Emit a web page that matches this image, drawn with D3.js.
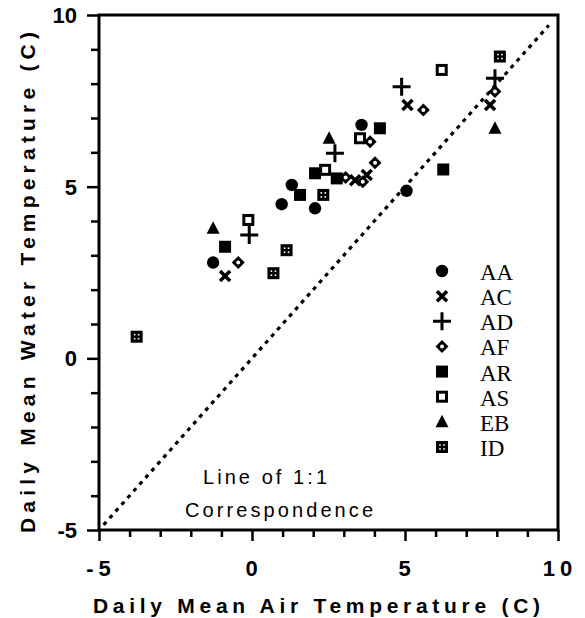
<!DOCTYPE html>
<html><head><meta charset="utf-8">
<script src="https://cdn.jsdelivr.net/npm/d3@7"></script>
<style>
html,body{margin:0;padding:0;background:#fff;}
svg{display:block;}
</style></head>
<body>
<svg id="chart" width="585" height="618"></svg>
<script>
// ---- data (air temp, water temp) ----
const seriesNames = ["AA","AC","AD","AF","AR","AS","EB","ID"];
const AA = [[-1.27,2.79],[0.97,4.49],[1.30,5.05],[2.06,4.37],[3.58,6.80],[5.05,4.88]];
const AC = [[-0.88,2.40],[3.37,5.19],[3.75,5.34],[5.08,7.38],[7.78,7.38]];
const AD = [[-0.09,3.59],[2.71,5.97],[4.89,7.91],[7.94,8.16]];
const AF = [[-0.45,2.79],[3.06,5.27],[3.62,5.14],[4.02,5.70],[3.86,6.31],[5.60,7.23],[7.94,7.77]];
const AR = [[-0.88,3.25],[1.57,4.76],[2.06,5.39],[2.77,5.24],[4.18,6.70],[6.25,5.50]];
const AS = [[-0.12,4.03],[2.39,5.49],[3.53,6.41],[6.20,8.40]];
const EB = [[-1.27,3.79],[2.52,6.41],[7.94,6.70]];
const ID = [[-3.77,0.63],[0.70,2.48],[1.13,3.15],[2.33,4.76],[8.10,8.79]];
const seriesData = {AA, AC, AD, AF, AR, AS, EB, ID};
const xDomain = [-5, 10];
const yDomain = [-5, 10];
const xTickLabels = ["-5","0","5","10"];
const yTickLabels = ["-5","0","5","10"];
const lineExtent = [-4.85, 9.7];

// ---- layout ----
const svg = d3.select("#chart");
const L = 99, R = 558, T = 15, B = 530;
const x = d3.scaleLinear().domain(xDomain).range([L, R]);
const y = d3.scaleLinear().domain(yDomain).range([B, T]);
const ink = "#000";

// frame
svg.append("rect").attr("x", L).attr("y", T).attr("width", R - L).attr("height", B - T)
  .attr("fill", "none").attr("stroke", ink).attr("stroke-width", 3);

// y axis
const yTicks = d3.range(yDomain[0], yDomain[1] + 1);
const ya = svg.append("g").attr("transform", `translate(${L},0)`)
  .call(d3.axisLeft(y).tickValues(yTicks).tickSize(8).tickFormat(""));
ya.select(".domain").remove();
ya.selectAll(".tick line").attr("stroke", ink).attr("stroke-width", 2.5)
  .attr("x2", d => d % 5 === 0 ? -12 : -8);
// x axis
const xTicks = d3.range(xDomain[0], xDomain[1] + 1);
const xa = svg.append("g").attr("transform", `translate(0,${B})`)
  .call(d3.axisBottom(x).tickValues(xTicks).tickSize(7).tickFormat(""));
xa.select(".domain").remove();
xa.selectAll(".tick line").attr("stroke", ink).attr("stroke-width", 2.5)
  .attr("y2", d => d % 5 === 0 ? 11 : 7);

// tick labels
const labelFont = "'Liberation Sans', Arial, sans-serif";
svg.append("g").selectAll("text").data(yTickLabels).join("text")
  .attr("x", 77).attr("y", d => y(+d) + 8)
  .attr("text-anchor", "end").attr("font-family", labelFont)
  .attr("font-weight", "bold").attr("font-size", 22).attr("fill", ink)
  .text(d => d);
svg.append("g").selectAll("text").data(xTickLabels).join("text")
  .attr("x", d => x(+d) + 2).attr("y", 576)
  .attr("text-anchor", "middle").attr("font-family", labelFont)
  .attr("font-weight", "bold").attr("font-size", 22).attr("fill", ink)
  .attr("letter-spacing", 5)
  .text(d => d);

// axis titles
svg.append("text").attr("x", 93).attr("y", 613)
  .attr("font-family", labelFont).attr("font-weight", "bold").attr("font-size", 21)
  .attr("textLength", 447).attr("lengthAdjust", "spacing").attr("fill", ink)
  .text("Daily Mean Air Temperature (C)");
svg.append("text").attr("transform", "translate(35,533) rotate(-90)")
  .attr("font-family", labelFont).attr("font-weight", "bold").attr("font-size", 21)
  .attr("textLength", 501).attr("lengthAdjust", "spacing").attr("fill", ink)
  .text("Daily Mean Water Temperature (C)");

// 1:1 line
svg.append("line")
  .attr("x1", x(lineExtent[0])).attr("y1", y(lineExtent[0]))
  .attr("x2", x(lineExtent[1])).attr("y2", y(lineExtent[1]))
  .attr("stroke", ink).attr("stroke-width", 3.2)
  .attr("stroke-dasharray", "4 5");

// annotation
const annFont = "'Liberation Sans', Arial, sans-serif";
svg.append("text").attr("x", 203).attr("y", 484)
  .attr("font-family", annFont).attr("font-size", 20).attr("fill", ink)
  .attr("textLength", 124).attr("lengthAdjust", "spacing")
  .text("Line of 1:1");
svg.append("text").attr("x", 185).attr("y", 517)
  .attr("font-family", annFont).attr("font-size", 20).attr("fill", ink)
  .attr("textLength", 188).attr("lengthAdjust", "spacing")
  .text("Correspondence");

// markers
function drawMarker(g, name) {
  if (name === "AA") {
    g.append("circle").attr("r", 6.2).attr("fill", ink);
  } else if (name === "AC") {
    g.append("path").attr("d", "M-5,-5L5,5M-5,5L5,-5")
      .attr("stroke", ink).attr("stroke-width", 3.5).attr("fill", "none");
  } else if (name === "AD") {
    g.append("path").attr("d", "M-9,0L9,0M0,-9L0,9")
      .attr("stroke", ink).attr("stroke-width", 3).attr("fill", "none");
  } else if (name === "AF") {
    g.append("path").attr("d", "M0,-6.5L6.5,0L0,6.5L-6.5,0Z").attr("fill", ink);
    g.append("circle").attr("r", 2).attr("fill", "#fff");
  } else if (name === "AR") {
    g.append("rect").attr("x", -6).attr("y", -6).attr("width", 12).attr("height", 12).attr("fill", ink);
  } else if (name === "AS") {
    g.append("rect").attr("x", -4.5).attr("y", -4.5).attr("width", 9).attr("height", 9)
      .attr("fill", "#fff").attr("stroke", ink).attr("stroke-width", 3);
  } else if (name === "EB") {
    g.append("path").attr("d", "M0,-7L6.5,5.5L-6.5,5.5Z").attr("fill", ink);
  } else if (name === "ID") {
    g.append("rect").attr("x", -6).attr("y", -6).attr("width", 12).attr("height", 12).attr("fill", ink);
    [[-2,-2],[2,-2],[-2,2],[2,2]].forEach(o =>
      g.append("rect").attr("x", o[0] - 0.8).attr("y", o[1] - 0.8)
        .attr("width", 1.6).attr("height", 1.6).attr("fill", "#fff"));
  }
}

const pts = svg.append("g");
seriesNames.forEach(name => {
  seriesData[name].forEach(p => {
    const g = pts.append("g").attr("transform", `translate(${x(p[0])},${y(p[1])})`);
    drawMarker(g, name);
  });
});

// legend
const legY = d3.scalePoint().domain(seriesNames).range([271, 447]);
const leg = svg.append("g");
seriesNames.forEach(name => {
  const g = leg.append("g").attr("transform", `translate(442,${legY(name)})`);
  drawMarker(g, name);
  leg.append("text").attr("x", 480).attr("y", legY(name) + 9)
    .attr("font-family", "'Liberation Serif', 'Times New Roman', serif")
    .attr("font-size", 23).attr("fill", ink).text(name);
});
</script>
</body></html>
